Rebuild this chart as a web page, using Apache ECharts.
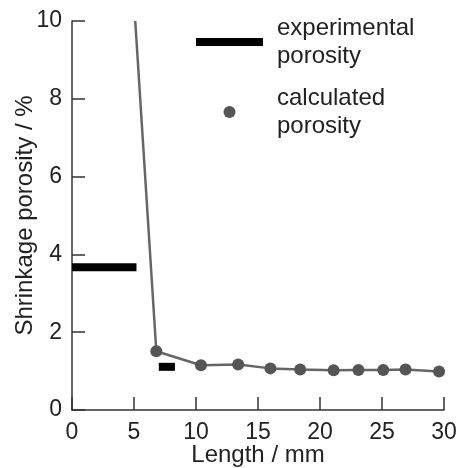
<!DOCTYPE html>
<html>
<head>
<meta charset="utf-8">
<script src="https://cdn.jsdelivr.net/npm/echarts@6/dist/echarts.min.js"></script>
<style>
  html, body { margin: 0; padding: 0; background: #fff; }
  #chart { width: 462px; height: 468px; }
</style>
</head>
<body>
<div id="chart"></div>
<script>
// Calculated shrinkage porosity along the casting length
const calcLength = [5.1, 6.8, 10.4, 13.4, 16.0, 18.4, 21.1, 23.1, 25.1, 26.9, 29.6];
const calcPorosity = [10.0, 1.51, 1.15, 1.17, 1.07, 1.04, 1.02, 1.03, 1.03, 1.04, 0.99];

// Measured porosity: each segment spans [start, end] at one level
const expStart = [0, 7.0];
const expEnd = [5.2, 8.3];
const expPorosity = [3.67, 1.11];

const xTicks = [0, 5, 10, 15, 20, 25, 30];
const yTicks = [0, 2, 4, 6, 8, 10];

const FONT = '"Liberation Sans", Arial, sans-serif';
const TEXT = '#222';

const calcData = calcLength.map((x, i) => {
  const item = { value: [x, calcPorosity[i]] };
  // the curve enters from above the top of the axis without a marker
  if (i === 0) item.symbol = 'none';
  return item;
});

const expSeries = expStart.map((s, i) => ({
  name: 'experimental porosity',
  type: 'line',
  data: [[s, expPorosity[i]], [expEnd[i], expPorosity[i]]],
  symbol: 'none',
  lineStyle: { color: '#000', width: 8, cap: 'butt' },
  itemStyle: { color: '#000' },
  silent: true,
  z: 2
}));

const chart = echarts.init(document.getElementById('chart'));
chart.setOption({
  animation: false,
  grid: { left: 72, right: 18, top: 21, bottom: 58, outerBoundsMode: 'none', containLabel: false },
  legend: {
    orient: 'vertical',
    left: 196,
    top: 14,
    padding: 0,
    itemWidth: 67,
    itemHeight: 12,
    itemGap: 14,
    selectedMode: false,
    textStyle: { fontFamily: FONT, fontSize: 24, color: TEXT, lineHeight: 28, padding: [0, 0, 0, 9] },
    formatter: name => name.replace(' ', '\n'),
    data: [
      { name: 'experimental porosity', icon: 'path://M0,0H67V8H0Z' },
      { name: 'calculated porosity', icon: 'circle' }
    ]
  },
  xAxis: {
    type: 'value',
    min: xTicks[0],
    max: xTicks[xTicks.length - 1],
    interval: 5,
    name: 'Length / mm',
    nameLocation: 'middle',
    nameGap: 33,
    nameMoveOverlap: false,
    nameTextStyle: { fontFamily: FONT, fontSize: 24, color: TEXT },
    axisLine: { lineStyle: { color: '#333', width: 1.5 } },
    axisTick: { inside: true, length: 13, lineStyle: { color: '#333', width: 1.5 } },
    axisLabel: { fontFamily: FONT, fontSize: 23, color: TEXT, margin: 11 },
    splitLine: { show: false }
  },
  yAxis: {
    type: 'value',
    min: yTicks[0],
    max: yTicks[yTicks.length - 1],
    interval: 2,
    name: 'Shrinkage porosity / %',
    nameLocation: 'middle',
    nameGap: 35,
    nameMoveOverlap: false,
    nameTextStyle: { fontFamily: FONT, fontSize: 24, color: TEXT },
    axisLine: { show: true, lineStyle: { color: '#333', width: 1.5 } },
    axisTick: { show: true, inside: true, length: 13, lineStyle: { color: '#333', width: 1.5 } },
    axisLabel: { fontFamily: FONT, fontSize: 23, color: TEXT, margin: 10 },
    splitLine: { show: false }
  },
  series: [
    ...expSeries,
    {
      name: 'calculated porosity',
      type: 'line',
      data: calcData,
      symbol: 'circle',
      symbolSize: 12,
      lineStyle: { color: '#666', width: 2.5 },
      itemStyle: { color: '#555' },
      clip: true,
      z: 3
    }
  ]
});
</script>
</body>
</html>
